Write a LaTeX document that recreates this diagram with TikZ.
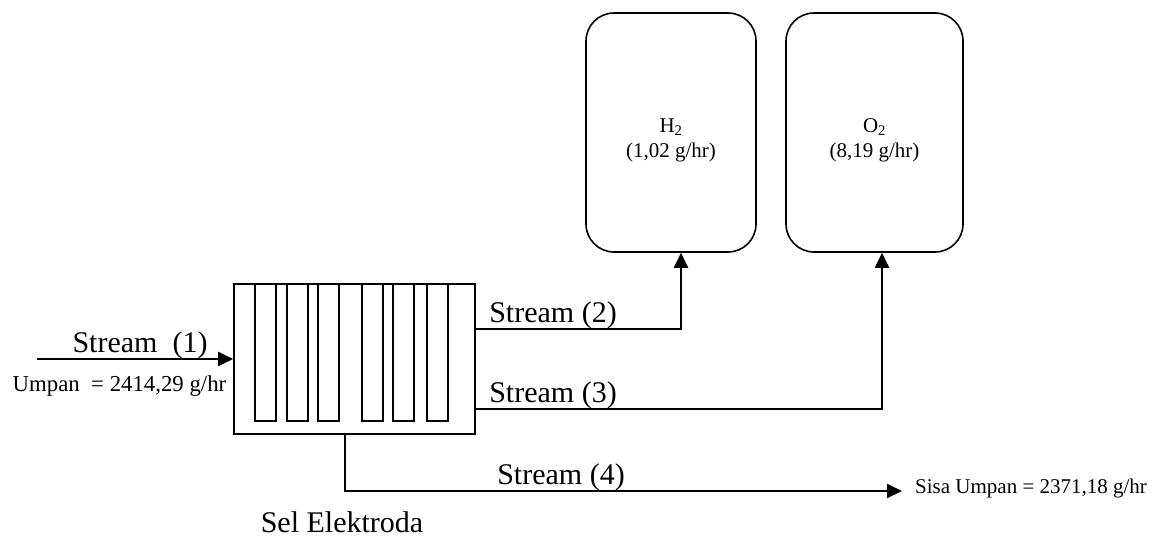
\documentclass[tikz,border=0pt]{standalone}
\usepackage{fontspec}
\setmainfont{Liberation Serif}
\usetikzlibrary{arrows.meta}
\usetikzlibrary{positioning}

\begin{document}
\begin{tikzpicture}[x=1pt, y=-1pt,
      cell/.style={draw, line width=1.6pt, minimum width=241pt, minimum height=150pt, inner sep=0pt},
      plate/.style={draw, line width=1.6pt, minimum width=21pt, minimum height=137pt, inner sep=0pt},
      tank/.style={draw, line width=1.6pt, rounded corners=28pt, minimum height=239pt, inner sep=0pt},
      flow/.style={line width=2pt, -{Triangle[length=15pt, width=14pt]}},
      big label/.style={font=\fontsize{30}{34}\selectfont, inner sep=0pt},
      small label/.style={font=\fontsize{21}{25}\selectfont, inner sep=0pt, align=center},
      ]
        \useasboundingbox (0,0) rectangle (1161,541);

        % electrolysis cell with its plates
        \node[cell] (cell) at (354.5,359) {};
        \foreach \x [count=\i] in {255,287,318,362,393,427}
          \node[plate] (plate-\i) at (\x+10.5,352.5) {};
        \node[big label, anchor=base] (cell-name) at (342,532) {Sel Elektroda};

        % gas storage
        \node[tank, minimum width=170pt] (h2) at (671,132.5) {};
        \node[tank, minimum width=177pt] (o2) at (874.5,132.5) {};
        \node[small label] (h2-rate) at (671,140) {H\textsubscript{2}\\(1,02 g/hr)};
        \node[small label] (o2-rate) at (874.5,140) {O\textsubscript{2}\\(8,19 g/hr)};

        \coordinate (feed) at (37,359);
        \coordinate (s2) at (cell.east |- 0,329);
        \coordinate (s3) at (cell.east |- 0,409);
        \coordinate (s4) at (345,434);
        \coordinate (s4-end) at (902,491);

        \draw[flow] (feed) -- (cell.west);
        \draw[flow] (s2) -| ([xshift=10pt]h2.south);
        \draw[flow] (s3) -| ([xshift=7.5pt]o2.south);
        \draw[flow] (s4) |- (s4-end);

        \node[big label, anchor=base] (stream-1) at (140,352) {Stream\ \ (1)};
        \node[small label, font=\fontsize{22.8}{26}\selectfont, anchor=base] (feed-rate) at (119.5,391) {Umpan\ \ = 2414,29 g/hr};
        \node[big label, anchor=base] (stream-2) at (553,322) {Stream (2)};
        \node[big label, anchor=base] (stream-3) at (553,402) {Stream (3)};
        \node[big label, anchor=base] (stream-4) at (561,484) {Stream (4)};
        \node[small label, anchor=base west] (rest-rate) at (915,493) {Sisa Umpan = 2371,18 g/hr};
\end{tikzpicture}
\end{document}
